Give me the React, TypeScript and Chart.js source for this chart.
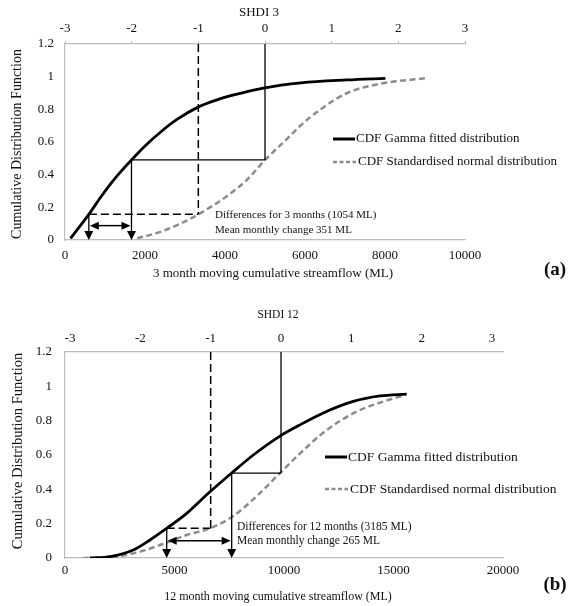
import React, { useEffect, useRef } from "react";
import { Chart, registerables } from "chart.js";

Chart.register(...registerables);

const FONT = '"Liberation Serif", "Times New Roman", serif';
const AXIS_COLOR = "#bdbdbd";
const TEXT_COLOR = "#111";

// ---------- shared ticks ----------
const SDI_TICKS = [-3, -2, -1, 0, 1, 2, 3];
const CDF_TICKS = [0, 0.2, 0.4, 0.6, 0.8, 1, 1.2];

// ---------- panel (a): 3 month ----------
const A_FLOW_TICKS = [0, 2000, 4000, 6000, 8000, 10000];
const A_GAMMA_FLOW = [137, 360, 596, 900, 1140, 1400, 1662, 2000, 2400, 2800, 3313, 3800, 4220, 4963, 5900, 7050, 8010];
const A_GAMMA_CDF = [0.01, 0.08, 0.157, 0.265, 0.344, 0.42, 0.49, 0.576, 0.663, 0.738, 0.812, 0.858, 0.888, 0.93, 0.962, 0.98, 0.99];
const A_NORMAL_FLOW = [1804, 2387, 2887, 3333, 4054, 4554, 5000, 5470, 5887, 6387, 7054, 7887, 9012];
const A_NORMAL_CDF = [0.01, 0.05, 0.1, 0.157, 0.27, 0.37, 0.49, 0.6, 0.7, 0.8, 0.9, 0.957, 0.99];
const A_REF_SDI = [-1, 0];
const A_REF_CDF = [0.157, 0.49];
const A_REF_FLOW = [596, 1662];
const A_ARROW_CDF = 0.088;
const A_NOTE = ["Differences for 3 months (1054 ML)", "Mean monthly change 351 ML"];

// ---------- panel (b): 12 month ----------
const B_FLOW_TICKS = [0, 5000, 10000, 15000, 20000];
const B_GAMMA_FLOW = [1142, 2055, 3119, 3881, 4644, 5557, 6544, 7611, 8599, 9817, 10650, 11793, 13163, 14384, 15603];
const B_GAMMA_CDF = [0, 0.008, 0.047, 0.105, 0.173, 0.26, 0.377, 0.495, 0.6, 0.71, 0.77, 0.845, 0.912, 0.944, 0.955];
const B_NORMAL_FLOW = [837, 2055, 3425, 4644, 5557, 6621, 7687, 8752, 9817, 10700, 11793, 13163, 14384, 15500];
const B_NORMAL_CDF = [0, 0.004, 0.037, 0.09, 0.134, 0.173, 0.245, 0.36, 0.495, 0.605, 0.73, 0.843, 0.905, 0.948];
const B_REF_SDI = [-1, 0];
const B_REF_CDF = [0.173, 0.495];
const B_REF_FLOW = [4644, 7611];
const B_ARROW_CDF = 0.1;
const B_NOTE = ["Differences for 12 months (3185 ML)", "Mean monthly change 265 ML"];

const LEGEND_LABELS = ["CDF Gamma fitted distribution", "CDF Standardised normal distribution"];
const Y_TITLE = "Cumulative Distribution Function";

type Spec = {
  h: number;
  flowMax: number;
  flowTicks: number[];
  sdiMin: number;
  sdiMax: number;
  gammaFlow: number[];
  gammaCdf: number[];
  normalFlow: number[];
  normalCdf: number[];
  refSdi: number[];
  refCdf: number[];
  refFlow: number[];
  arrowCdf: number;
  note: string[];
  topTitle: string;
  xTitle: string;
  tag: string;
  layout: any;
};

const PANEL_A: Spec = {
  h: 290,
  flowMax: 10000,
  flowTicks: A_FLOW_TICKS,
  sdiMin: -3,
  sdiMax: 3,
  gammaFlow: A_GAMMA_FLOW,
  gammaCdf: A_GAMMA_CDF,
  normalFlow: A_NORMAL_FLOW,
  normalCdf: A_NORMAL_CDF,
  refSdi: A_REF_SDI,
  refCdf: A_REF_CDF,
  refFlow: A_REF_FLOW,
  arrowCdf: A_ARROW_CDF,
  note: A_NOTE,
  topTitle: "SHDI 3",
  xTitle: "3 month moving cumulative streamflow (ML)",
  tag: "(a)",
  layout: {
    padRight: 110, yW: 65, topH: 44, botH: 50,
    yPad: 11, xPad: 8, topPad: 5, topTicks: true, tickSize: 13,
    topTitle: { x: 259, y: 13, s: 13 },
    yTitle: { x: 17, y: 144, s: 14 },
    xTitle: { x: 273, y: 274, s: 13 },
    tag: { x: 555, y: 270, s: 19 },
    legend: { x0: 333, x1: 355, y: [139, 162], s: 13, gap: [1, 3] },
    note: { x: 215, y: [215, 230], s: 11 },
  },
};

const PANEL_B: Spec = {
  h: 316,
  flowMax: 20000,
  flowTicks: B_FLOW_TICKS,
  sdiMin: -3.071,
  sdiMax: 3.156,
  gammaFlow: B_GAMMA_FLOW,
  gammaCdf: B_GAMMA_CDF,
  normalFlow: B_NORMAL_FLOW,
  normalCdf: B_NORMAL_CDF,
  refSdi: B_REF_SDI,
  refCdf: B_REF_CDF,
  refFlow: B_REF_FLOW,
  arrowCdf: B_ARROW_CDF,
  note: B_NOTE,
  topTitle: "SHDI 12",
  xTitle: "12 month moving cumulative streamflow (ML)",
  tag: "(b)",
  layout: {
    padRight: 72, yW: 65, topH: 62, botH: 48,
    yPad: 13, xPad: 5, topPad: 6, topTicks: false, tickSize: 13,
    topTitle: { x: 278, y: 25, s: 11.5 },
    yTitle: { x: 18, y: 161, s: 14.5 },
    xTitle: { x: 278, y: 307, s: 12 },
    tag: { x: 555, y: 295, s: 19 },
    legend: { x0: 325, x1: 347, y: [167, 199], s: 13.5, gap: [1, 3] },
    note: { x: 237, y: [237, 251], s: 11.5 },
  },
};

function drawText(ctx: CanvasRenderingContext2D, str: string, x: number, y: number, size: number, align: CanvasTextAlign = "left", bold = false, rot = 0) {
  ctx.save();
  ctx.font = `${bold ? "bold " : ""}${size}px ${FONT}`;
  ctx.fillStyle = TEXT_COLOR;
  ctx.textAlign = align;
  ctx.textBaseline = "middle";
  ctx.translate(x, y);
  if (rot) ctx.rotate(rot);
  ctx.fillText(str, 0, 0);
  ctx.restore();
}

function seg(ctx: CanvasRenderingContext2D, x1: number, y1: number, x2: number, y2: number) {
  ctx.beginPath();
  ctx.moveTo(x1, y1);
  ctx.lineTo(x2, y2);
  ctx.stroke();
}

function tri(ctx: CanvasRenderingContext2D, pts: number[][]) {
  ctx.beginPath();
  ctx.moveTo(pts[0][0], pts[0][1]);
  ctx.lineTo(pts[1][0], pts[1][1]);
  ctx.lineTo(pts[2][0], pts[2][1]);
  ctx.closePath();
  ctx.fill();
}

function buildConfig(s: Spec): any {
  const L = s.layout;
  const pts = (xs: number[], ys: number[]) => xs.map((x, i) => ({ x, y: ys[i] }));
  const tickFont = { family: FONT, size: L.tickSize };

  const annot = {
    id: "annot",
    afterDatasetsDraw(chart: any) {
      const ctx: CanvasRenderingContext2D = chart.ctx;
      const x = chart.scales.x, x2 = chart.scales.x2, y = chart.scales.y;
      const top = y.getPixelForValue(1.2);
      const bottom = y.getPixelForValue(0);
      const xa = x2.getPixelForValue(s.refSdi[0]);
      const xb = x2.getPixelForValue(s.refSdi[1]);
      const ya = y.getPixelForValue(s.refCdf[0]);
      const yb = y.getPixelForValue(s.refCdf[1]);
      const fa = x.getPixelForValue(s.refFlow[0]);
      const fb = x.getPixelForValue(s.refFlow[1]);
      const yc = y.getPixelForValue(s.arrowCdf);
      ctx.save();
      ctx.strokeStyle = "#000";
      ctx.fillStyle = "#000";
      ctx.lineWidth = 1.5;
      ctx.setLineDash([8, 4]);
      seg(ctx, xa, top, xa, ya);
      seg(ctx, fa, ya, xa, ya);
      ctx.setLineDash([]);
      ctx.lineWidth = 1.3;
      seg(ctx, xb, top, xb, yb);
      seg(ctx, fb, yb, xb, yb);
      seg(ctx, fa, ya, fa, bottom - 6);
      seg(ctx, fb, yb, fb, bottom - 6);
      tri(ctx, [[fa, bottom], [fa - 4.5, bottom - 9], [fa + 4.5, bottom - 9]]);
      tri(ctx, [[fb, bottom], [fb - 4.5, bottom - 9], [fb + 4.5, bottom - 9]]);
      ctx.lineWidth = 1.5;
      seg(ctx, fa + 6, yc, fb - 6, yc);
      tri(ctx, [[fa + 1, yc], [fa + 10, yc - 4], [fa + 10, yc + 4]]);
      tri(ctx, [[fb - 1, yc], [fb - 10, yc - 4], [fb - 10, yc + 4]]);
      ctx.restore();
    },
    afterDraw(chart: any) {
      const ctx: CanvasRenderingContext2D = chart.ctx;
      drawText(ctx, s.topTitle, L.topTitle.x, L.topTitle.y, L.topTitle.s, "center");
      drawText(ctx, Y_TITLE, L.yTitle.x, L.yTitle.y, L.yTitle.s, "center", false, -Math.PI / 2);
      drawText(ctx, s.xTitle, L.xTitle.x, L.xTitle.y, L.xTitle.s, "center");
      drawText(ctx, s.tag, L.tag.x, L.tag.y, L.tag.s, "center", true);
      const lg = L.legend;
      ctx.save();
      ctx.strokeStyle = "#000";
      ctx.lineWidth = 3;
      seg(ctx, lg.x0, lg.y[0], lg.x1, lg.y[0]);
      ctx.strokeStyle = "#8c8c8c";
      ctx.lineWidth = 2.5;
      ctx.setLineDash([4, 2.5]);
      seg(ctx, lg.x0, lg.y[1], lg.x1 + 1, lg.y[1]);
      ctx.restore();
      drawText(ctx, LEGEND_LABELS[0], lg.x1 + lg.gap[0], lg.y[0], lg.s);
      drawText(ctx, LEGEND_LABELS[1], lg.x1 + lg.gap[1], lg.y[1], lg.s);
      drawText(ctx, s.note[0], L.note.x, L.note.y[0], L.note.s);
      drawText(ctx, s.note[1], L.note.x, L.note.y[1], L.note.s);
    },
  };

  return {
    type: "line",
    data: {
      datasets: [
        {
          label: LEGEND_LABELS[0],
          data: pts(s.gammaFlow, s.gammaCdf),
          borderColor: "#000",
          borderWidth: 2.8,
          pointRadius: 0,
          cubicInterpolationMode: "monotone",
          fill: false,
          xAxisID: "x",
          yAxisID: "y",
        },
        {
          label: LEGEND_LABELS[1],
          data: pts(s.normalFlow, s.normalCdf),
          borderColor: "#8c8c8c",
          borderWidth: 2.5,
          borderDash: [6, 3.5],
          pointRadius: 0,
          cubicInterpolationMode: "monotone",
          fill: false,
          xAxisID: "x",
          yAxisID: "y",
        },
      ],
    },
    options: {
      responsive: false,
      maintainAspectRatio: false,
      animation: false,
      events: [],
      layout: { padding: { left: 0, right: L.padRight, top: 0, bottom: 0 } },
      plugins: { legend: { display: false }, tooltip: { enabled: false }, title: { display: false } },
      scales: {
        x: {
          type: "linear",
          position: "bottom",
          min: 0,
          max: s.flowMax,
          afterBuildTicks: (ax: any) => { ax.ticks = s.flowTicks.map((v) => ({ value: v })); },
          afterFit: (sc: any) => { sc.height = L.botH; },
          ticks: { font: tickFont, color: TEXT_COLOR, padding: L.xPad, maxRotation: 0, autoSkip: false, callback: (v: any) => String(v) },
          grid: { display: true, drawOnChartArea: false, drawTicks: false },
          border: { display: true, color: AXIS_COLOR, width: 1.2 },
        },
        x2: {
          type: "linear",
          position: "top",
          min: s.sdiMin,
          max: s.sdiMax,
          afterBuildTicks: (ax: any) => { ax.ticks = SDI_TICKS.map((v) => ({ value: v })); },
          afterFit: (sc: any) => { sc.height = L.topH; },
          ticks: { font: tickFont, color: TEXT_COLOR, padding: L.topPad, maxRotation: 0, autoSkip: false, callback: (v: any) => String(v) },
          grid: { display: true, drawOnChartArea: false, drawTicks: L.topTicks, tickLength: 3, color: AXIS_COLOR },
          border: { display: true, color: AXIS_COLOR, width: 1.2 },
        },
        y: {
          type: "linear",
          position: "left",
          min: 0,
          max: 1.2,
          afterBuildTicks: (ax: any) => { ax.ticks = CDF_TICKS.map((v) => ({ value: v })); },
          afterFit: (sc: any) => { sc.width = L.yW; },
          ticks: { font: tickFont, color: TEXT_COLOR, padding: L.yPad, callback: (v: any) => String(Math.round(v * 10) / 10) },
          grid: { display: true, drawOnChartArea: false, drawTicks: false },
          border: { display: true, color: AXIS_COLOR, width: 1.2 },
        },
      },
    },
    plugins: [annot],
  };
}

function PanelChart({ spec }: { spec: Spec }) {
  const ref = useRef<HTMLCanvasElement>(null);
  useEffect(() => {
    const chart = new Chart(ref.current as HTMLCanvasElement, buildConfig(spec));
    return () => chart.destroy();
  }, [spec]);
  return <canvas ref={ref} width={575} height={spec.h} style={{ display: "block", width: 575, height: spec.h }} />;
}

export default function App() {
  return (
    <div style={{ position: "absolute", left: 0, top: 0, width: 575, height: 606, background: "#fff" }}>
      <PanelChart spec={PANEL_A} />
      <PanelChart spec={PANEL_B} />
    </div>
  );
}
